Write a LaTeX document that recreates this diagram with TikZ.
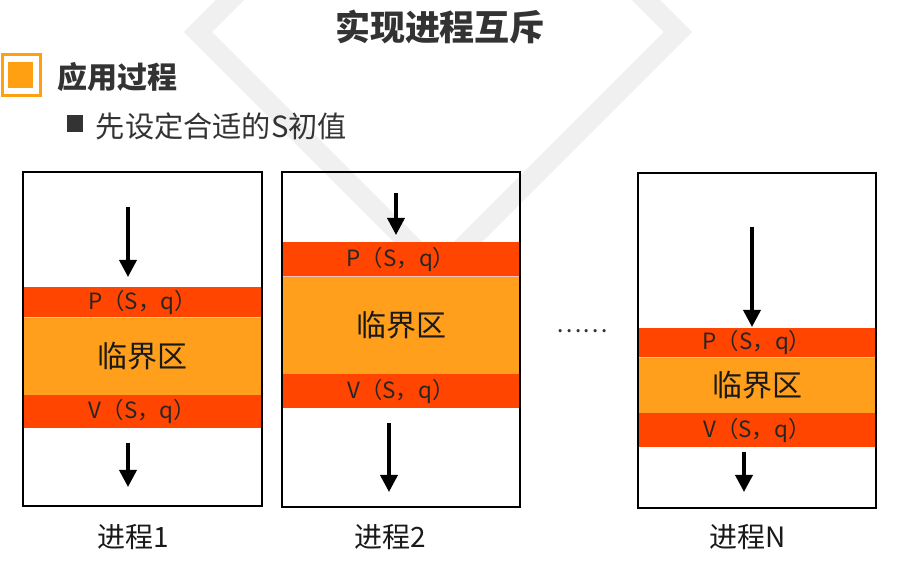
\documentclass[tikz,border=0pt]{standalone}
\usepackage{fontspec}
\setmainfont{Noto Sans CJK SC}
\usepackage{tikz}
\usetikzlibrary{arrows.meta}

\definecolor{bandred}{HTML}{FF4500}
\definecolor{critorange}{HTML}{FF9F1C}
\definecolor{bulletorange}{HTML}{FFA012}
\definecolor{textgray}{HTML}{333333}
\definecolor{markgray}{HTML}{F0F0F0}

\begin{document}
\begin{tikzpicture}[x=0.5pt,y=-0.5pt,
					every node/.style = {inner sep=0pt, outer sep=0pt}]

\tikzstyle{band} = [rectangle, fill=bandred, text=black!85, font=\fontsize{11.2}{13}\selectfont]
\tikzstyle{crit} = [rectangle, fill=critorange, draw=red!25!white, line width=0.4pt, text=black!90, font=\fontsize{15}{18}\selectfont]
\tikzstyle{procbox} = [rectangle, draw=black, line width=1.2pt]
\tikzstyle{flow} = [line width=1.8pt, -{Triangle[length=8.5pt,width=8.5pt]}]
\tikzstyle{proclabel} = [font=\fontsize{14}{17}\selectfont, text=black!90]

\useasboundingbox (0,0) rectangle (912,566);

% watermark
\begin{scope}
\clip (0,0) rectangle (912,566);
\draw[markgray, line width=10pt] (198,32) -- (438,-208) -- (678,32) -- (438,272) -- cycle;
\end{scope}

% heading
\node[font=\bfseries\fontsize{17.5}{20}\selectfont, text=textgray] (title) at (440,27) {实现进程互斥};
\node[rectangle, draw=bulletorange, line width=1.5pt, minimum width=19pt, minimum height=20.5pt] (hbox) at (21,75) {};
\node[rectangle, fill=bulletorange, minimum width=12.5pt, minimum height=13pt] (hdot) at (20.5,75) {};
\node[anchor=west, font=\bfseries\fontsize{15}{18}\selectfont, text=textgray] (head) at (57,77) {应用过程};
\node[rectangle, fill=textgray, minimum width=8pt, minimum height=8.5pt] (sdot) at (75,123.5) {};
\node[anchor=west, font=\fontsize{14.6}{17}\selectfont, text=textgray] (sub) at (96,126) {先设定合适的S初值};

% process 1
\node[band, minimum width=119.5pt, minimum height=15pt] (p1) at (142.5,302) {P（S，q）};
\node[crit, minimum width=119.5pt, minimum height=39pt] (c1) at (142.5,356) {临界区};
\node[band, minimum width=119.5pt, minimum height=16.5pt] (v1) at (142.5,411.5) {V（S，q）};
\node[procbox, minimum width=119.5pt, minimum height=167pt] (b1) at (142.5,339) {};
\coordinate (a1s) at (128,207);
\coordinate (a1e) at (128,277);
\coordinate (d1s) at (128,443);
\coordinate (d1e) at (128,487);
\draw[flow] (a1s) -- (a1e);
\draw[flow] (d1s) -- (d1e);
\node[proclabel] (l1) at (133,537) {进程1};

% process 2
\node[band, minimum width=119pt, minimum height=17pt] (p2) at (401,259) {P（S，q）};
\node[crit, minimum width=119pt, minimum height=49pt] (c2) at (401,325) {临界区};
\node[band, minimum width=119pt, minimum height=17pt] (v2) at (401,391) {V（S，q）};
\node[procbox, minimum width=119pt, minimum height=167.5pt] (b2) at (401,339.5) {};
\coordinate (a2s) at (396,193);
\coordinate (a2e) at (396,235);
\coordinate (d2s) at (389,423);
\coordinate (d2e) at (389,492);
\draw[flow] (a2s) -- (a2e);
\draw[flow] (d2s) -- (d2e);
\node[proclabel] (l2) at (390,537) {进程2};

\node[font=\fontsize{12}{14}\selectfont, text=textgray] (dots) at (582,331) {……};

% process N
\node[band, minimum width=119pt, minimum height=14.5pt] (p3) at (757,342.5) {P（S，q）};
\node[crit, minimum width=119pt, minimum height=28pt] (c3) at (757,385) {临界区};
\node[band, minimum width=119pt, minimum height=17pt] (v3) at (757,430) {V（S，q）};
\node[procbox, minimum width=119pt, minimum height=167.5pt] (b3) at (757,340.5) {};
\coordinate (a3s) at (752,227);
\coordinate (a3e) at (752,327);
\coordinate (d3s) at (744,452);
\coordinate (d3e) at (744,492);
\draw[flow] (a3s) -- (a3e);
\draw[flow] (d3s) -- (d3e);
\node[proclabel] (l3) at (748,537) {进程N};

\end{tikzpicture}
\end{document}
